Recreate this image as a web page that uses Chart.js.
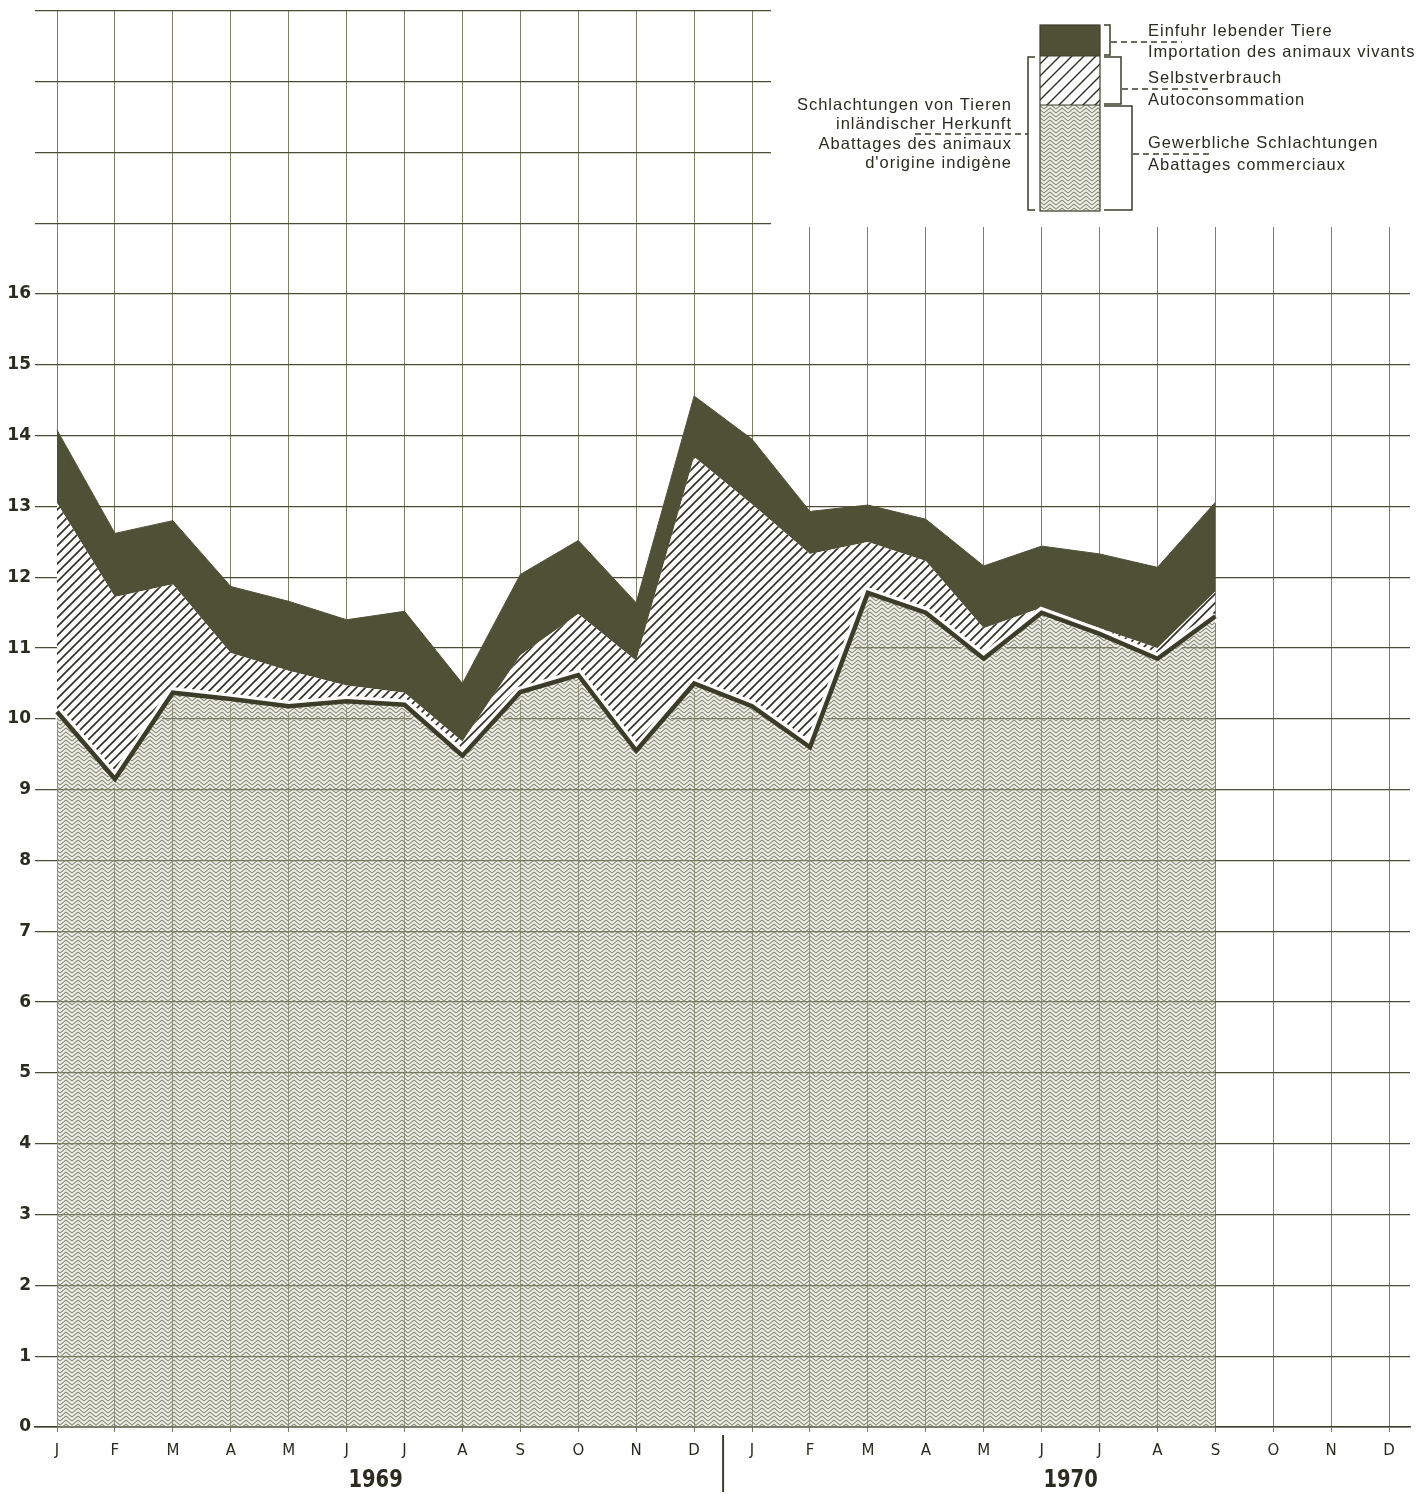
<!DOCTYPE html>
<html>
<head>
<meta charset="utf-8">
<script src="https://cdn.jsdelivr.net/npm/chart.js@4"></script>
<style>
  html, body { margin: 0; padding: 0; background: #fff; }
  canvas { display: block; }
</style>
</head>
<body>
<canvas id="schlachtungen" width="1421" height="1499"></canvas>
<script>
// Monate Jan 1969 - Dez 1970
const monate = ['J','F','M','A','M','J','J','A','S','O','N','D','J','F','M','A','M','J','J','A','S','O','N','D'];
const jahre = ['1969', '1970'];

// Oberkante "Gewerbliche Schlachtungen"
const gewerblich = [10.1, 9.15, 10.37, 10.28, 10.18, 10.25, 10.2, 9.48, 10.38, 10.62, 9.55, 10.5,
                    10.18, 9.6, 11.78, 11.5, 10.85, 11.5, 11.2, 10.85, 11.45];
// Oberkante "Selbstverbrauch" (= Schlachtungen inländischer Herkunft)
const inland = [13.05, 11.72, 11.9, 10.93, 10.68, 10.47, 10.37, 9.68, 10.9, 11.48, 10.82, 13.7,
                13.03, 12.33, 12.5, 12.23, 11.28, 11.57, 11.28, 11.0, 11.8];
// Oberkante "Einfuhr lebender Tiere" (= gesamt)
const gesamt = [14.08, 12.62, 12.8, 11.87, 11.66, 11.4, 11.52, 10.5, 12.04, 12.52, 11.64, 14.56,
                13.95, 12.93, 13.02, 12.82, 12.16, 12.44, 12.33, 12.14, 13.06];

const yTicks = [0,1,2,3,4,5,6,7,8,9,10,11,12,13,14,15,16,17,18,19,20];
const yBeschriftet = 16;

const DUNKEL = '#4f5137';
const LINIE = '#3b3d28';
const TEXT = '#2b2b1f';

// Muster: Zickzack (gewerbliche Schlachtungen) - halbtransparent, Raster scheint durch
function zickzack() {
    const c = document.createElement('canvas');
    c.width = 12; c.height = 4;
    const g = c.getContext('2d');
    g.fillStyle = 'rgba(215,216,200,0.35)';
    g.fillRect(0, 0, 12, 4);
    g.strokeStyle = 'rgba(120,123,98,0.85)';
    g.lineWidth = 1.1;
    for (let a = -8; a <= 12; a += 4) {
        g.beginPath();
        g.moveTo(0, a + 5);
        g.lineTo(6, a);
        g.lineTo(12, a + 5);
        g.stroke();
    }
    return g.createPattern(c, 'repeat');
}

// Muster: Schraffur (Selbstverbrauch)
function schraffur(step, w) {
    const c = document.createElement('canvas');
    c.width = step; c.height = step;
    const g = c.getContext('2d');
    g.fillStyle = '#ffffff';
    g.fillRect(0, 0, step, step);
    g.strokeStyle = '#2f3022';
    g.lineWidth = w;
    g.beginPath();
    g.moveTo(-1, step + 1); g.lineTo(step + 1, -1);
    g.moveTo(-2, 2); g.lineTo(2, -2);
    g.moveTo(step - 2, step + 2); g.lineTo(step + 2, step - 2);
    g.stroke();
    return g.createPattern(c, 'repeat');
}

const musterZick = zickzack();
const musterSchraff = schraffur(9, 1.6);
const musterSchraffLegende = schraffur(12, 1.4);

function punkte(werte) {
    return werte.map((v, i) => ({ x: i, y: v }));
}

// weisser Bereich oben rechts (Legende)
const legendeFlaeche = {
    id: 'legendeFlaeche',
    beforeDatasetsDraw(chart) {
        const ctx = chart.ctx;
        ctx.save();
        ctx.fillStyle = '#ffffff';
        ctx.fillRect(771, 0, 700, 227);
        ctx.restore();
    }
};

function gestrichelt(ctx, x1, x2, y) {
    ctx.save();
    ctx.setLineDash([6, 4]);
    ctx.lineWidth = 1.5;
    ctx.beginPath();
    ctx.moveTo(x1, y); ctx.lineTo(x2, y);
    ctx.stroke();
    ctx.restore();
}

const legendeZeichnen = {
    id: 'legendeZeichnen',
    afterDraw(chart) {
        const ctx = chart.ctx;
        const xs = chart.scales.x;
        const area = chart.chartArea;
        ctx.save();

        // Jahre
        ctx.fillStyle = TEXT;
        ctx.textAlign = 'center';
        ctx.textBaseline = 'middle';
        ctx.font = 'bold 25px "DejaVu Sans"';
        [[0, 11], [12, 23]].forEach((r, k) => {
            const mx = (xs.getPixelForValue(r[0]) + xs.getPixelForValue(r[1])) / 2;
            ctx.save();
            ctx.translate(mx, area.bottom + 53);
            ctx.scale(0.78, 1);
            ctx.fillText(jahre[k], 0, 0);
            ctx.restore();
        });
        const trenn = (xs.getPixelForValue(11) + xs.getPixelForValue(12)) / 2;
        ctx.strokeStyle = LINIE;
        ctx.lineWidth = 2;
        ctx.beginPath();
        ctx.moveTo(trenn, area.bottom + 8);
        ctx.lineTo(trenn, area.bottom + 65);
        ctx.stroke();

        // Legendenblock
        const bx = 1040, bw = 60;
        ctx.fillStyle = DUNKEL;
        ctx.fillRect(bx, 25, bw, 31);
        ctx.fillStyle = musterSchraffLegende;
        ctx.fillRect(bx, 56, bw, 49);
        ctx.fillStyle = musterZick;
        ctx.fillRect(bx, 105, bw, 106);
        ctx.strokeStyle = LINIE;
        ctx.lineWidth = 1.2;
        ctx.strokeRect(bx, 25, bw, 186);
        ctx.beginPath();
        ctx.moveTo(bx, 56); ctx.lineTo(bx + bw, 56);
        ctx.moveTo(bx, 105); ctx.lineTo(bx + bw, 105);
        ctx.stroke();

        // Klammern
        ctx.lineWidth = 1.5;
        ctx.beginPath();
        ctx.moveTo(1104, 25); ctx.lineTo(1110, 25); ctx.lineTo(1110, 55); ctx.lineTo(1104, 55);
        ctx.moveTo(1104, 57); ctx.lineTo(1121, 57); ctx.lineTo(1121, 104); ctx.lineTo(1104, 104);
        ctx.moveTo(1104, 106); ctx.lineTo(1132, 106); ctx.lineTo(1132, 210); ctx.lineTo(1104, 210);
        ctx.moveTo(1035, 57); ctx.lineTo(1028, 57); ctx.lineTo(1028, 210); ctx.lineTo(1035, 210);
        ctx.stroke();
        gestrichelt(ctx, 1111, 1182, 42);
        gestrichelt(ctx, 1122, 1210, 89);
        gestrichelt(ctx, 1133, 1210, 154);
        gestrichelt(ctx, 915, 1028, 134);

        // Texte
        ctx.fillStyle = TEXT;
        ctx.font = '16.5px "Liberation Sans"';
        ctx.letterSpacing = '1px';
        ctx.textBaseline = 'middle';
        ctx.textAlign = 'left';
        ctx.fillText('Einfuhr lebender Tiere', 1148, 31);
        ctx.fillText('Importation des animaux vivants', 1148, 52);
        ctx.fillText('Selbstverbrauch', 1148, 78);
        ctx.fillText('Autoconsommation', 1148, 100);
        ctx.fillText('Gewerbliche Schlachtungen', 1148, 143);
        ctx.fillText('Abattages commerciaux', 1148, 165);
        ctx.textAlign = 'right';
        ctx.fillText('Schlachtungen von Tieren', 1012, 105);
        ctx.fillText('inländischer Herkunft', 1012, 124);
        ctx.fillText('Abattages des animaux', 1012, 144);
        ctx.fillText("d'origine indigène", 1012, 163);
        ctx.restore();
    }
};

new Chart(document.getElementById('schlachtungen'), {
    type: 'line',
    data: {
        datasets: [
            {
                label: 'Gewerbliche Schlachtungen',
                data: punkte(gewerblich),
                borderColor: LINIE,
                borderWidth: 4.5,
                backgroundColor: musterZick,
                fill: 'origin',
                order: 2
            },
            {
                label: 'Selbstverbrauch',
                data: punkte(inland),
                borderWidth: 0,
                borderColor: 'rgba(0,0,0,0)',
                backgroundColor: musterSchraff,
                fill: 0,
                order: 4
            },
            {
                label: 'Einfuhr lebender Tiere',
                data: punkte(gesamt),
                borderWidth: 1,
                borderColor: DUNKEL,
                backgroundColor: DUNKEL,
                fill: 1,
                order: 5
            },
            {
                label: 'Rand',
                data: punkte(gewerblich),
                borderColor: '#ffffff',
                borderWidth: 11,
                fill: false,
                order: 3
            }
        ]
    },
    options: {
        responsive: false,
        animation: false,
        layout: { padding: { top: 2, right: 11, left: 0, bottom: 0 } },
        elements: {
            line: { tension: 0, borderJoinStyle: 'miter' },
            point: { radius: 0, hoverRadius: 0 }
        },
        plugins: {
            legend: { display: false },
            tooltip: { enabled: false }
        },
        scales: {
            x: {
                type: 'linear',
                min: -0.38,
                max: 23.36,
                afterBuildTicks: (s) => { s.ticks = monate.map((m, i) => ({ value: i })); },
                afterFit: (s) => { s.height = 72; },
                grid: { color: '#7d8064', lineWidth: 1, tickLength: 5 },
                border: { color: LINIE, width: 1.5 },
                ticks: {
                    autoSkip: false,
                    maxRotation: 0,
                    padding: 10,
                    color: TEXT,
                    font: { family: 'DejaVu Sans', size: 15 },
                    callback: (v) => monate[v]
                }
            },
            y: {
                min: 0,
                max: 20,
                afterBuildTicks: (s) => { s.ticks = yTicks.map(v => ({ value: v })); },
                afterFit: (s) => { s.width = 35; },
                grid: { color: '#4a4c34', lineWidth: 1.3, drawTicks: false },
                border: { display: false },
                ticks: {
                    padding: 4,
                    color: TEXT,
                    font: { family: 'DejaVu Sans', size: 17, weight: 'bold', lineHeight: 0.8 },
                    callback: (v) => (v <= yBeschriftet ? String(v) : '')
                }
            }
        }
    },
    plugins: [legendeFlaeche, legendeZeichnen]
});
</script>
</body>
</html>
